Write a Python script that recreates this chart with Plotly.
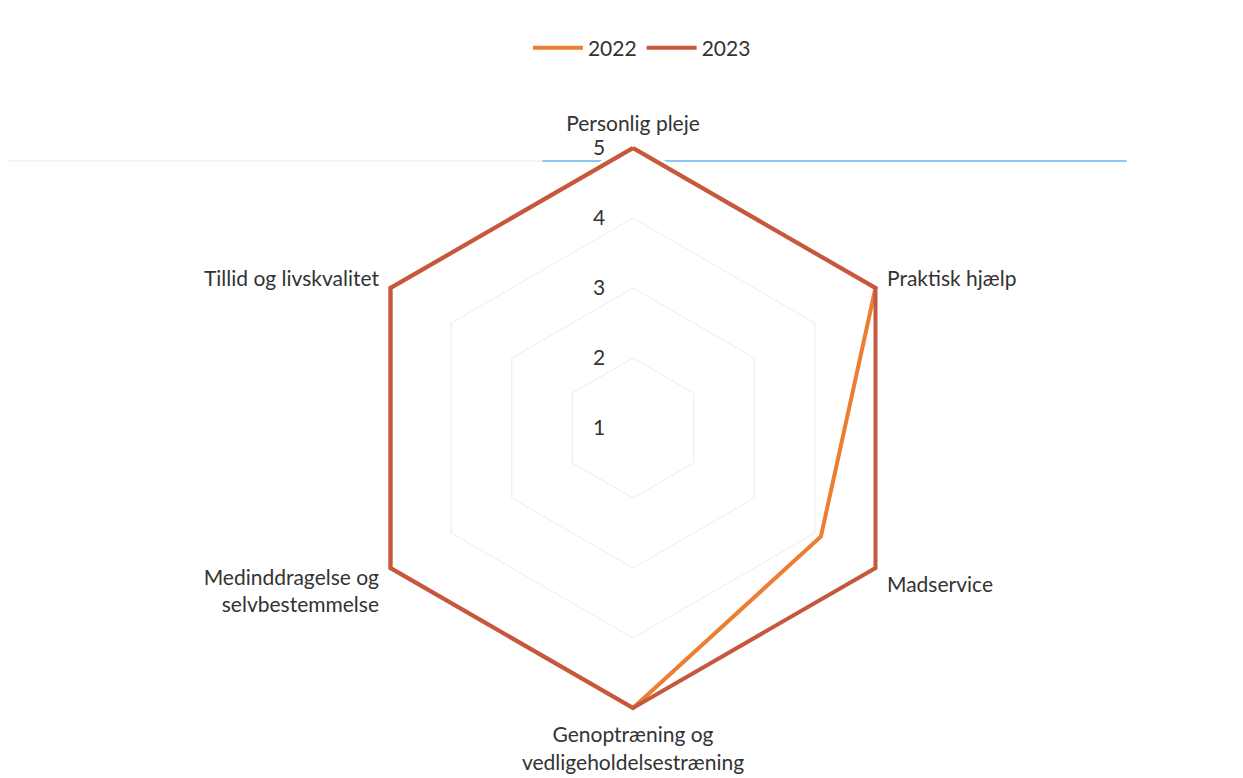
import plotly.graph_objects as go

categories = ["Personlig pleje", "Praktisk hjælp", "Madservice",
              "Genoptræning og<br>vedligeholdelsestræning",
              "Medinddragelse og<br>selvbestemmelse", "Tillid og livskvalitet"]
values_2022 = [5, 5, 4.1, 5, 5, 5]
values_2023 = [5, 5, 5, 5, 5, 5]
radial_ticks = [1, 2, 3, 4, 5]

FONT = "Lato"
TXT = "#333333"
FS = 21

fig = go.Figure()
fig.add_trace(go.Scatterpolar(
    r=values_2022 + values_2022[:1], theta=categories + categories[:1],
    mode="lines", name="2022", cliponaxis=False,
    line=dict(color="#ED7D31", width=4)))
fig.add_trace(go.Scatterpolar(
    r=values_2023 + values_2023[:1], theta=categories + categories[:1],
    mode="lines", name="2023", cliponaxis=False,
    line=dict(color="#C5583F", width=4)))

W, H = 1243, 778
RMAX = 5.08
R = 280 * (RMAX - 1) / 4
cx, cy = 632 - 7, 428 - 8
fig.update_layout(
    width=W, height=H,
    margin=dict(l=0, r=0, t=0, b=0),
    paper_bgcolor="white",
    font=dict(family=FONT, size=FS, color=TXT),
    polar=dict(
        domain=dict(x=[(cx - R) / W, (cx + R) / W],
                    y=[(H - cy - R) / H, (H - cy + R) / H]),
        bgcolor="white",
        gridshape="linear",
        radialaxis=dict(range=[1, RMAX], tickvals=radial_ticks, showline=False,
                        gridcolor="#EBEBEB", gridwidth=1, angle=90,
                        side="counterclockwise", tickangle=90,
                        layer="below traces",
                        ticks="outside", ticklen=20, tickcolor="rgba(0,0,0,0)",
                        tickfont=dict(size=FS, color=TXT, family=FONT)),
        angularaxis=dict(rotation=90, direction="clockwise", showgrid=False,
                         showline=False, ticks="outside", ticklen=3,
                         tickcolor="rgba(0,0,0,0)", layer="below traces",
                         tickfont=dict(size=FS, color=TXT, family=FONT)),
    ),
    legend=dict(orientation="h", x=0.51, xanchor="center", y=1 - 40 / H,
                yanchor="middle", itemwidth=50,
                font=dict(size=FS, color=TXT, family=FONT)),
    showlegend=True,
)

# faint scan line artifact across the top of the chart
fig.add_shape(type="line", xref="paper", yref="paper",
              x0=0.0, x1=0.43, y0=1 - 153 / H, y1=1 - 153 / H,
              line=dict(color="#E4E8EC", width=1), layer="below")
fig.add_shape(type="line", xref="paper", yref="paper",
              x0=0.43, x1=0.90, y0=1 - 153 / H, y1=1 - 153 / H,
              line=dict(color="#8CC8EE", width=2), layer="below")

fig.write_html("out.html")
